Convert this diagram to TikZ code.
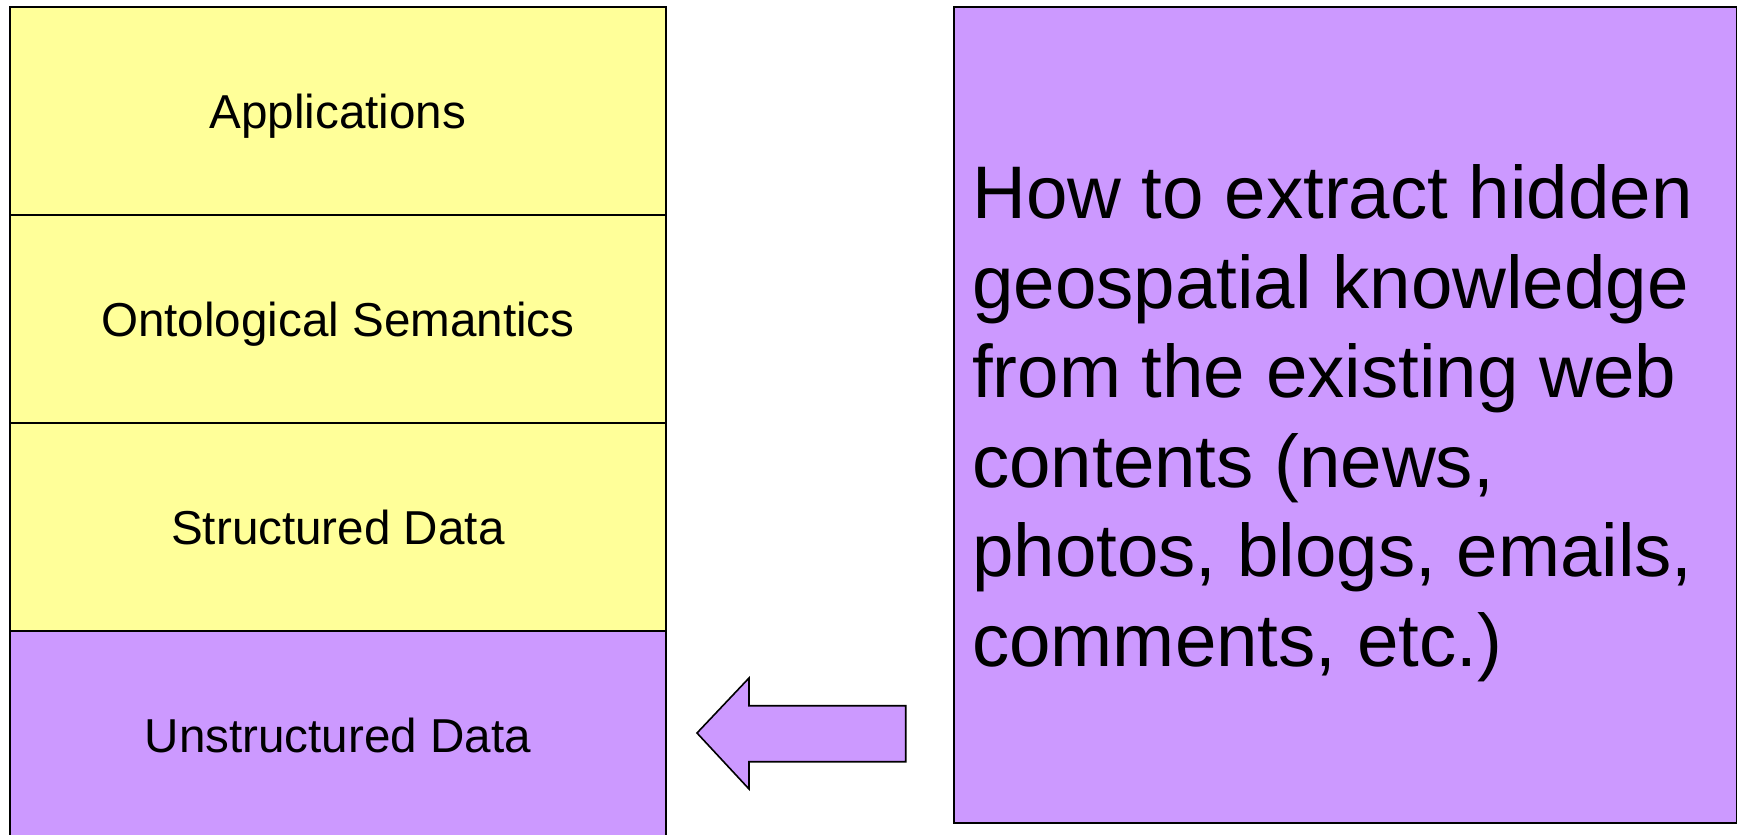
\documentclass[tikz,border=0pt]{standalone}
\usepackage{fontspec}
\setmainfont{Liberation Sans}
\definecolor{layeryellow}{HTML}{FFFF99}
\definecolor{layerpurple}{HTML}{CC99FF}
\begin{document}
\begin{tikzpicture}[x=1pt,y=-1pt,
  layer/.style={draw=black,line width=2.2pt,minimum width=656.5pt,minimum height=208pt,inner sep=0pt,anchor=north west,text height=34.7pt,text depth=0pt,font=\fontsize{47.6pt}{57pt}\selectfont},
  yellowlayer/.style={layer,fill=layeryellow},
  purplelayer/.style={layer,fill=layerpurple}]
\useasboundingbox (0,0) rectangle (1737,835);
\node[yellowlayer] (apps) at (8.5,6) {Applications};
\node[yellowlayer] (onto) at (8.5,214) {Ontological Semantics};
\node[yellowlayer] (struct) at (8.5,422) {Structured Data};
\node[purplelayer] (unstruct) at (8.5,630) {Unstructured Data};
\node[draw=black,line width=2.2pt,fill=layerpurple,anchor=north west,minimum width=783pt,minimum height=816pt,inner sep=0pt] (question) at (952.7,6) {};
\node[anchor=base west,inner sep=0pt,align=left,font=\fontsize{74.5pt}{89.5pt}\selectfont] (qtext) at (972,666)
  {How to extract hidden\\geospatial knowledge\\from the existing web\\contents (news,\\photos, blogs, emails,\\comments, etc.)};
\draw[line width=1.6pt,fill=layerpurple,line join=miter] (697,733) -- (749,678) -- (749,705.7) -- (905.7,705.7) -- (905.7,761.7) -- (749,761.7) -- (749,789) -- cycle;
\end{tikzpicture}
\end{document}
